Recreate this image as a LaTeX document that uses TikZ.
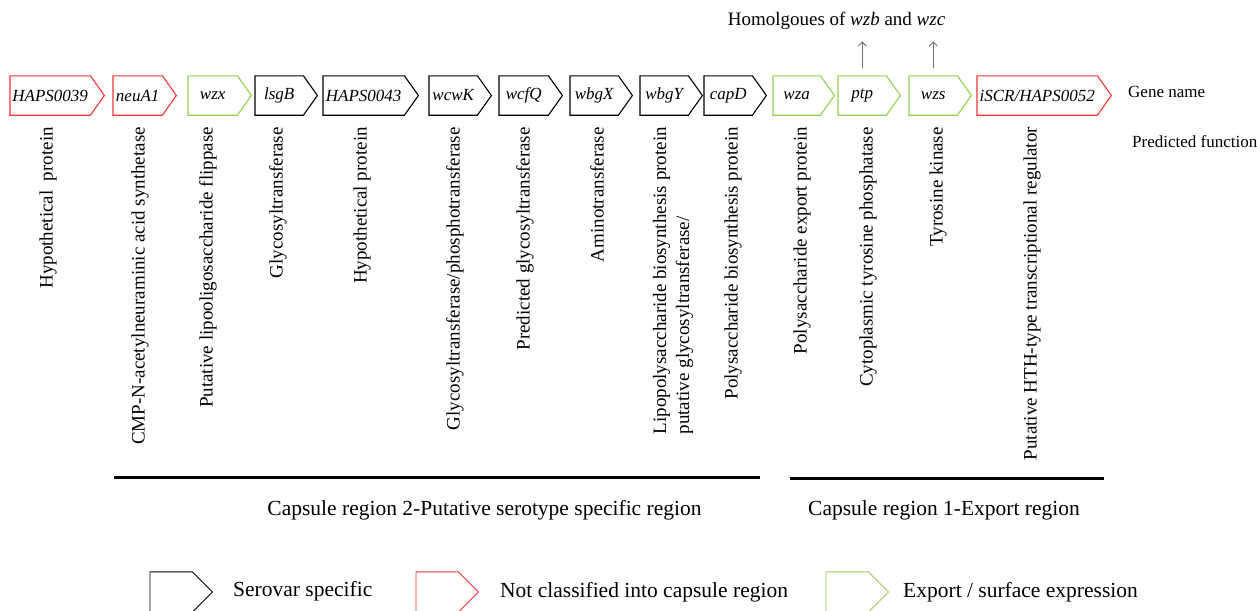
\documentclass[tikz,border=0pt]{standalone}
\usepackage{fontspec}
\setmainfont{Liberation Serif}
\usetikzlibrary{arrows.meta}
\definecolor{genered}{RGB}{255,51,51}
\definecolor{genegreen}{RGB}{146,208,80}
\definecolor{arrowgrey}{RGB}{110,110,110}

\begin{document}
\begin{tikzpicture}[x=1pt, y=-1pt,
    gene/.style={minimum height=39pt, inner sep=0pt, anchor=west,
        font=\fontsize{17}{17}\selectfont\itshape},
    geneline/.style={line width=1.1pt, line join=miter},
    keybox/.style={minimum height=40pt, minimum width=42pt, inner sep=0pt, anchor=west},
    keyline/.style={line width=0.9pt},
    func/.style={rotate=90, anchor=east, inner sep=0pt, font=\fontsize{19}{23}\selectfont},
    side/.style={anchor=base west, inner sep=0pt, font=\fontsize{17}{17}\selectfont},
    keytext/.style={anchor=base west, inner sep=0pt, font=\fontsize{21.5}{22}\selectfont},
    regiontext/.style={anchor=base, inner sep=0pt, font=\fontsize{21.5}{22}\selectfont},
    regionline/.style={line width=3pt},
    homarrow/.style={arrowgrey, line width=1pt, -{Straight Barb[length=4pt,width=8pt]}}]
    \useasboundingbox (0,0) rectangle (1257,610);
    \def\gy{95.5}
    \def\tip{14}
    % genes of the locus
    \foreach \nm/\lx/\bw/\col/\txt in {
        haps39/10/80/genered/HAPS0039, neua/113/49/genered/neuA1,
        wzx/188/49/genegreen/wzx, lsgb/255/48/black/lsgB,
        haps43/323/81/black/HAPS0043, wcwk/429/48/black/wcwK,
        wcfq/499/49/black/wcfQ, wbgx/570/48/black/wbgX,
        wbgy/640/48/black/wbgY, capd/704/48/black/capD,
        wza/773/47/genegreen/wza, ptp/838/48/genegreen/ptp,
        wzs/909/48/genegreen/wzs, iscr/977/120/genered/{iSCR/HAPS0052}}
    {
        \node[gene, minimum width=\bw pt] (\nm) at (\lx,\gy) {\txt};
        \draw[geneline, draw=\col] (\nm.north west) -- (\nm.north east)
            -- ([xshift=\tip pt]\nm.east) -- (\nm.south east) -- (\nm.south west) -- cycle;
    }
    \node[side] (genename) at (1128,97) {Gene name};
    \node[side] (predfunc) at (1132,147) {Predicted function};

    % predicted functions
    \foreach \nm/\fx/\txt in {
        f39/48/Hypothetical\ \ protein,
        fneua/140/CMP-N-acetylneuraminic acid synthetase,
        fwzx/208/Putative lipooligosaccharide flippase,
        flsgb/278/Glycosyltransferase,
        f43/362/Hypothetical protein,
        fwcwk/455/{Glycosyltransferase/phosphotransferase},
        fwcfq/525/Predicted glycosyltransferase,
        fwbgx/597/Aminotransferase,
        fcapd/733/Polysaccharide biosynthesis protein,
        fwza/802/Polysaccharide export protein,
        fptp/868/Cytoplasmic tyrosine phosphatase,
        fwzs/938/Tyrosine kinase,
        fiscr/1032/Putative HTH-type transcriptional regulator}
        \node[func] (\nm) at (\fx,127) {\txt};
    \node[func, align=left] (fwbgy) at (673,127)
        {Lipopolysaccharide biosynthesis protein\\putative glycosyltransferase/};

    % wzb / wzc homologues
    \node[anchor=base, inner sep=0pt, font=\fontsize{19}{19}\selectfont] (homolog) at (836.5,26)
        {Homolgoues of \textit{wzb} and \textit{wzc}};
    \draw[homarrow] ([yshift=8pt]ptp.north) -- ([yshift=-11pt]ptp.north |- homolog.south);
    \draw[homarrow] ([yshift=8pt]wzs.north) -- ([yshift=-11pt]wzs.north |- homolog.south);

    % capsule regions
    \draw[regionline] (114,477) -- (760,477);
    \draw[regionline] (790,478) -- (1104,478);
    \node[regiontext] (region2) at (484.5,515) {Capsule region 2-Putative serotype specific region};
    \node[regiontext] (region1) at (944,515) {Capsule region 1-Export region};

    % legend
    \foreach \nm/\lx/\col in {keyblack/150/black, keyred/416/genered, keygreen/826/genegreen}
    {
        \node[keybox] (\nm) at (\lx,592) {};
        \draw[keyline, draw=\col] (\nm.north west) -- (\nm.north east)
            -- ([xshift=20pt]\nm.east) -- (\nm.south east) -- (\nm.south west) -- cycle;
    }
    \node[keytext] (tblack) at (233,596) {Serovar specific};
    \node[keytext] (tred) at (500,597) {Not classified into capsule region};
    \node[keytext] (tgreen) at (903,597) {Export / surface expression};
\end{tikzpicture}
\end{document}
